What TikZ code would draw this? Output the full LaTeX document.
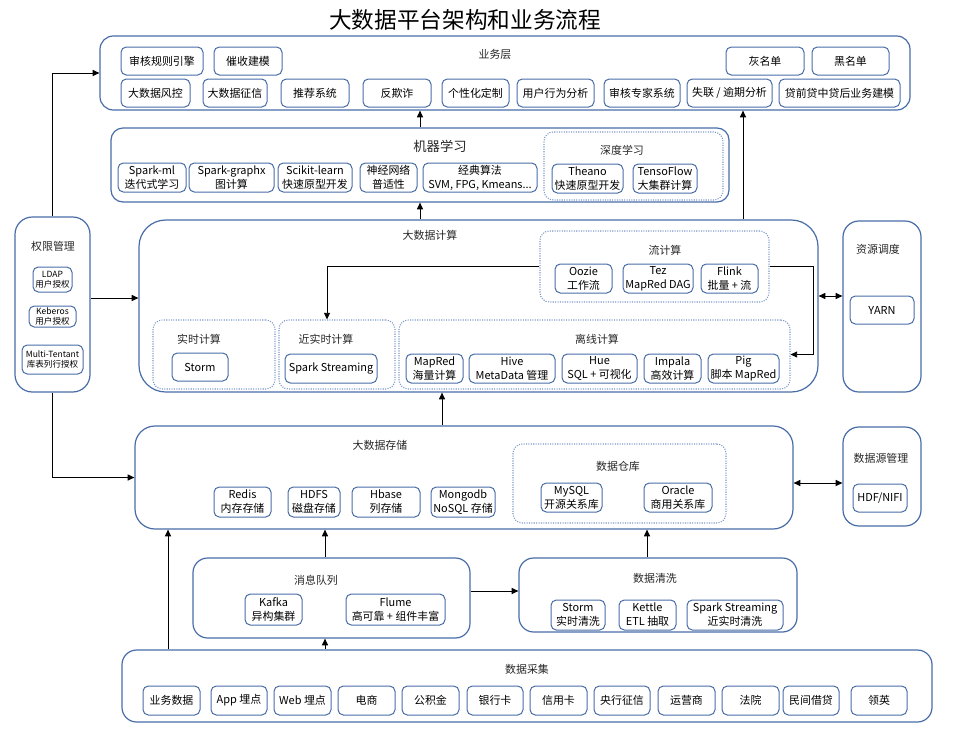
\documentclass[tikz,border=0pt]{standalone}
\usepackage{fontspec}
\setmainfont{Noto Sans CJK SC}
\usetikzlibrary{arrows.meta}
\definecolor{boxblue}{RGB}{72,108,168}
\definecolor{dotblue}{RGB}{125,152,200}
\tikzset{
  bw/.style={minimum width=#1*0.75pt},
  bh/.style={minimum height=#1*0.75pt},
  tier/.style={draw=boxblue, line width=0.9pt, rounded corners=10pt, inner sep=0pt},
  subgrp/.style={draw=dotblue, densely dotted, line width=0.8pt, rounded corners=7pt, inner sep=0pt},
  item/.style={draw=boxblue, line width=0.75pt, rounded corners=4pt, inner sep=0pt, align=center, font=\fontsize{8.2}{10.5}\selectfont},
  pitem/.style={item, font=\fontsize{6.4}{7.6}\selectfont},
  ttl/.style={font=\fontsize{8.2}{10}\selectfont, inner sep=0pt, text=black!85},
  arr/.style={-{Triangle[length=5pt,width=4.5pt]}, line width=0.7pt},
  darr/.style={{Triangle[length=5pt,width=4.5pt]}-{Triangle[length=5pt,width=4.5pt]}, line width=0.7pt},
}
\begin{document}
\begin{tikzpicture}[x=0.75pt,y=-0.75pt] %platform layers, pixel coordinates
    \useasboundingbox (0,0) rectangle (969,732);
    \node[font=\fontsize{17}{20}\selectfont] (title) at (465,20) {大数据平台架构和业务流程};

    % business layer
    \node[tier, bw=810, bh=74] (biz) at (505,73) {};
    \node[ttl] at (495,54) {业务层};
    \node[item, bw=82, bh=28] (b1) at (162,61) {审核规则引擎};
    \node[item, bw=68, bh=28] (b2) at (248,61) {催收建模};
    \node[item, bw=78, bh=28] (b3) at (765,61) {灰名单};
    \node[item, bw=77, bh=28] (b4) at (850.5,61) {黑名单};
    \node[item, bw=69, bh=28] (b5) at (155.5,93) {大数据风控};
    \node[item, bw=64, bh=28] (b6) at (235,93) {大数据征信};
    \node[item, bw=68, bh=28] (b7) at (315,93) {推荐系统};
    \node[item, bw=68, bh=28] (b8) at (397,93) {反欺诈};
    \node[item, bw=67, bh=28] (b9) at (475.5,93) {个性化定制};
    \node[item, bw=77, bh=28] (b10) at (555.5,93) {用户行为分析};
    \node[item, bw=76, bh=28] (b11) at (642,93) {审核专家系统};
    \node[item, bw=85, bh=28] (b12) at (729.5,93) {失联 / 逾期分析};
    \node[item, bw=121, bh=28] (b13) at (839.5,93) {贷前贷中贷后业务建模};

    % machine learning
    \node[tier, bw=618, bh=74, rounded corners=9pt] (ml) at (420,165) {};
    \node[ttl, font=\fontsize{10}{12}\selectfont] at (440,146) {机器学习};
    \node[subgrp, bw=179, bh=68] (deep) at (633.5,166) {};
    \node[ttl] at (622,150) {深度学习};
    \node[item, bw=68, bh=29] (m1) at (152,177.5) {Spark-ml\\迭代式学习};
    \node[item, bw=85, bh=29] (m2) at (231.5,177.5) {Spark-graphx\\图计算};
    \node[item, bw=74, bh=29] (m3) at (315,177.5) {Scikit-learn\\快速原型开发};
    \node[item, bw=57, bh=29] (m4) at (388.5,177.5) {神经网络\\普适性};
    \node[item, bw=114, bh=29] (m5) at (480,177.5) {经典算法\\SVM, FPG, Kmeans...};
    \node[item, bw=71, bh=29] (m6) at (587.5,178.5) {Theano\\快速原型开发};
    \node[item, bw=64, bh=29] (m7) at (665,178.5) {TensoFlow\\大集群计算};

    % big data computing
    \node[tier, bw=679, bh=172, rounded corners=20pt] (bdc) at (478.5,306) {};
    \node[ttl] at (430,235) {大数据计算};
    \node[subgrp, bw=229, bh=71] (flow) at (654.5,266.5) {};
    \node[ttl] at (665,250) {流计算};
    \node[item, bw=57, bh=29] (f1) at (583.5,278.5) {Oozie\\工作流};
    \node[item, bw=70, bh=29] (f2) at (658,278.5) {Tez\\MapRed DAG};
    \node[item, bw=57, bh=29] (f3) at (729.5,278.5) {Flink\\批量 + 流};
    \node[subgrp, bw=122, bh=69] (rt) at (214,354.5) {};
    \node[ttl] at (199,339) {实时计算};
    \node[item, bw=56, bh=28] (r1) at (200,367) {Storm};
    \node[subgrp, bw=116, bh=69] (near) at (337,354.5) {};
    \node[ttl] at (326,339) {近实时计算};
    \node[item, bw=92, bh=29] (n1) at (331,368.5) {Spark Streaming};
    \node[subgrp, bw=391, bh=69] (off) at (594.5,354.5) {};
    \node[ttl] at (597,339) {离线计算};
    \node[item, bw=57, bh=29] (o1) at (434.5,368.5) {MapRed\\海量计算};
    \node[item, bw=86, bh=29] (o2) at (512,368.5) {Hive\\MetaData 管理};
    \node[item, bw=75, bh=29] (o3) at (599.5,368.5) {Hue\\SQL + 可视化};
    \node[item, bw=57, bh=29] (o4) at (672.5,368.5) {Impala\\高效计算};
    \node[item, bw=71, bh=29] (o5) at (743.5,368.5) {Pig\\脚本 MapRed};

    % side blocks
    \node[tier, bw=75, bh=175, rounded corners=13pt] (perm) at (52.5,304.5) {};
    \node[ttl] at (53,246) {权限管理};
    \node[pitem, bw=39, bh=25] (p1) at (52.5,279.5) {LDAP\\用户授权};
    \node[pitem, bw=47, bh=21] (p2) at (52.5,316.5) {Keberos\\用户授权};
    \node[pitem, bw=61, bh=29] (p3) at (52.5,359.5) {Multi-Tentant\\库表列行授权};
    \node[tier, bw=78, bh=171, rounded corners=12pt] (res) at (882,306.5) {};
    \node[ttl] at (878,249) {资源调度};
    \node[item, bw=64, bh=28] (yarn) at (882,310) {YARN};
    \node[tier, bw=78, bh=99, rounded corners=12pt] (dsm) at (882,476.5) {};
    \node[ttl] at (881,458) {数据源管理};
    \node[item, bw=54, bh=28] (hdf) at (880,498) {HDF/NIFI};

    % big data storage
    \node[tier, bw=658, bh=103, rounded corners=15pt] (bds) at (464,477.5) {};
    \node[ttl] at (380,445) {大数据存储};
    \node[item, bw=57, bh=30] (s1) at (242.5,502) {Redis\\内存存储};
    \node[item, bw=52, bh=30] (s2) at (314,502) {HDFS\\磁盘存储};
    \node[item, bw=68, bh=30] (s3) at (386,502) {Hbase\\列存储};
    \node[item, bw=64, bh=30] (s4) at (463,502) {Mongodb\\NoSQL 存储};
    \node[subgrp, bw=213, bh=79] (dw) at (619.5,483.5) {};
    \node[ttl] at (618,466) {数据仓库};
    \node[item, bw=61, bh=29] (s5) at (571.5,497.5) {MySQL\\开源关系库};
    \node[item, bw=68, bh=29] (s6) at (678,497.5) {Oracle\\商用关系库};

    % queue and cleaning
    \node[tier, bw=277, bh=80, rounded corners=11pt] (mq) at (331.5,598) {};
    \node[ttl] at (316,580) {消息队列};
    \node[item, bw=57, bh=31] (q1) at (273.5,609.5) {Kafka\\异构集群};
    \node[item, bw=99, bh=31] (q2) at (395.5,609.5) {Flume\\高可靠 + 组件丰富};
    \node[tier, bw=278, bh=74, rounded corners=11pt] (clean) at (658,595) {};
    \node[ttl] at (655,578) {数据清洗};
    \node[item, bw=54, bh=30] (c1) at (578,615) {Storm\\实时清洗};
    \node[item, bw=57, bh=30] (c2) at (647.5,615) {Kettle\\ETL 抽取};
    \node[item, bw=96, bh=30] (c3) at (735,615) {Spark Streaming\\近实时清洗};

    % data collection
    \node[tier, bw=810, bh=72, rounded corners=11pt] (col) at (527,686) {};
    \node[ttl] at (527,669) {数据采集};
    \node[item, bw=57, bh=29] (k1) at (171.5,700.5) {业务数据};
    \node[item, bw=56, bh=29] (k2) at (239,700.5) {App 埋点};
    \node[item, bw=57, bh=29] (k3) at (302.5,700.5) {Web 埋点};
    \node[item, bw=57, bh=29] (k4) at (366.5,700.5) {电商};
    \node[item, bw=57, bh=29] (k5) at (430.5,700.5) {公积金};
    \node[item, bw=56, bh=29] (k6) at (495,700.5) {银行卡};
    \node[item, bw=57, bh=29] (k7) at (558.5,700.5) {信用卡};
    \node[item, bw=56, bh=29] (k8) at (622,700.5) {央行征信};
    \node[item, bw=57, bh=29] (k9) at (686.5,700.5) {运营商};
    \node[item, bw=57, bh=29] (k10) at (750.5,700.5) {法院};
    \node[item, bw=56, bh=29] (k11) at (811,700.5) {民间借贷};
    \node[item, bw=56, bh=29] (k12) at (879,700.5) {领英};

    % connectors
    \coordinate (up) at (743,0);
    \draw[arr] (ml.north) -- (ml.north |- biz.south);
    \draw[arr] (bdc.north -| ml.south) -- (ml.south);
    \draw[arr] (bdc.north -| up) -- (biz.south -| up);
    \draw[arr] (perm.north) |- (biz.west);
    \draw[arr] (perm.east |- 0,298) -- (bdc.west |- 0,298);
    \draw[arr] (perm.south) |- (bds.west);
    \draw[darr] (bdc.east |- 0,296) -- (res.west |- 0,296);
    \draw[darr] (bds.east |- 0,483) -- (dsm.west |- 0,483);
    \draw[arr] (flow.west) -| (near.north -| 327,0);
    \draw[arr] (flow.east) -- ++(44,0) |- (off.east);
    \draw[arr] (bds.north -| 442,0) -- (bdc.south -| 442,0);
    \draw[arr] (col.north -| 168,0) -- (bds.south -| 168,0);
    \draw[arr] (mq.north -| 325,0) -- (bds.south -| 325,0);
    \draw[arr] (col.north -| 325,0) -- (mq.south -| 325,0);
    \draw[arr] (clean.north -| 647,0) -- (bds.south -| 647,0);
    \draw[arr] (mq.east |- 0,591) -- (clean.west |- 0,591);
\end{tikzpicture}
\end{document}
